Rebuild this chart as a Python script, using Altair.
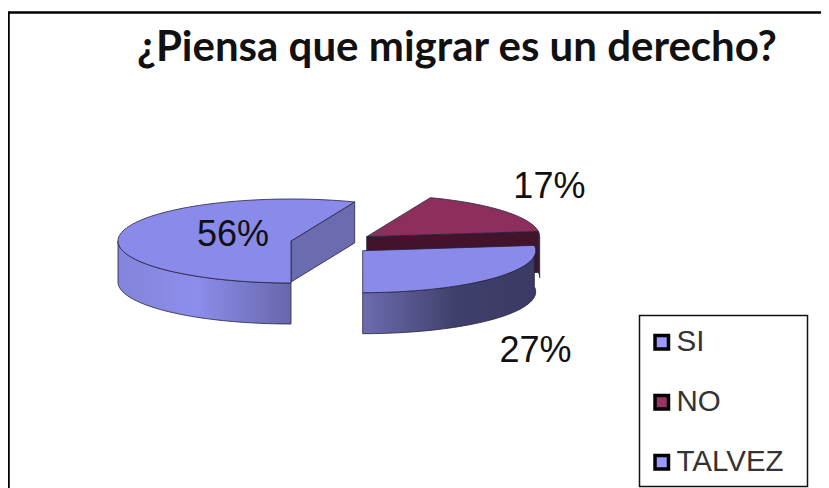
import numpy as np
import altair as alt

categories = ["SI", "NO", "TALVEZ"]
shares = [27, 17, 56]
labels = ["27%", "17%", "56%"]
title_text = "¿Piensa que migrar es un derecho?"

BLUE_TOP = "#8A8AEA"
BLUE_CUT = "#6B6BB0"
RED_TOP = "#8E2E5C"
RED_CUT = "#43122B"
EDGE = "#23233F"
LEGEND_COLORS = ["#9999FF", "#993366", "#9999FF"]

# layout of the exploded 3D pie, in page pixels
A, B, DEPTH = 173.0, 42.0, 41.0
CENTER = {"TALVEZ": (291.0, 241.0), "NO": (366.7, 236.7), "SI": (362.7, 250.7)}
LABEL_SHIFT = {"TALVEZ": (112.0, 2.0), "NO": (46.0, -24.0), "SI": (43.0, 73.0)}

PROJ = dict(type="identity", scale=1, translate=[-8, -8])


def rim(cx, cy, deg):
    r = np.radians(deg)
    return cx + A * np.sin(r), cy - B * np.cos(r)


def arc_pts(c, a0, a1, dy=0.0):
    n = max(3, int(abs(a1 - a0) / 2) + 2)
    return [[float(x), float(y + dy)] for x, y in (rim(c[0], c[1], d) for d in np.linspace(a0, a1, n))]


def poly(pts, fill, width=0.8, stroke=EDGE):
    feature = {
        "type": "Feature",
        "properties": {},
        "geometry": {"type": "Polygon", "coordinates": [pts + [pts[0]]]},
    }
    return (
        alt.Chart(alt.Data(values=[feature]))
        .mark_geoshape(fill=fill, stroke=stroke, strokeWidth=width)
        .project(**PROJ)
    )


def grad(*stops):
    return alt.Gradient(
        gradient="linear",
        stops=[alt.GradientStop(offset=o, color=c) for o, c in stops],
        x1=0, x2=1, y1=0, y2=0,
    )


def top_face(c, a0, a1, fill):
    return poly([list(c)] + arc_pts(c, a0, a1), fill)


def wall(c, a0, a1, fill):
    upper = arc_pts(c, a0, a1)
    lower = arc_pts(c, a0, a1, DEPTH)
    return poly(upper + lower[::-1], fill)


def cut_face(c, deg, fill):
    x, y = rim(c[0], c[1], deg)
    return poly([[c[0], c[1]], [float(x), float(y)], [float(x), float(y + DEPTH)], [c[0], c[1] + DEPTH]], fill)


# slice angles follow from the shares, clockwise from the front of the pie
start = 180.0
t0, t1 = start, start + shares[2] * 3.6
n0, n1 = t1 - 360.0, t1 - 360.0 + shares[1] * 3.6
s0, s1 = n1, n1 + shares[0] * 3.6

ct, cn, cs = CENTER["TALVEZ"], CENTER["NO"], CENTER["SI"]

# the chart's outer frame runs off the right and bottom of the picture
frame = poly([[8.5, 12.5], [1000.0, 12.5], [1000.0, 1000.0], [8.5, 1000.0]], "#FFFFFF", width=2.5, stroke="#000000")

layers = [
    frame,
    # TALVEZ
    wall(ct, t0, 270, grad((0, "#8484DC"), (0.45, "#8D8DEC"), (1, "#6767AB"))),
    cut_face(ct, t1, BLUE_CUT),
    top_face(ct, t0, t1, BLUE_TOP),
    # NO
    wall(cn, n1, 90, RED_CUT),
    cut_face(cn, n1, RED_CUT),
    top_face(cn, n0, n1, RED_TOP),
    # SI
    wall(cs, s0, s1, grad((0, "#6C6CB0"), (0.55, "#3F3F6B"), (1, "#3A3A64"))),
    top_face(cs, s0, s1, BLUE_TOP),
]

# percentage labels, anchored on the rim point at each slice's middle angle
mids = {"SI": (s0 + s1) / 2, "NO": (n0 + n1) / 2, "TALVEZ": (t0 + t1) / 2}
label_rows = []
for cat, text in zip(categories, labels):
    px, py = rim(*CENTER[cat], mids[cat])
    dx, dy = LABEL_SHIFT[cat]
    label_rows.append({"lon": float(px + dx), "lat": float(py + dy), "text": text})

label_layer = (
    alt.Chart(alt.Data(values=label_rows))
    .mark_text(font="Liberation Sans", fontSize=36, color="#111111", baseline="middle", align="center")
    .encode(longitude="lon:Q", latitude="lat:Q", text="text:N")
    .project(**PROJ)
)

# legend box and legend
box = poly([[639.5, 315.5], [807.5, 315.5], [807.5, 486.5], [639.5, 486.5]], "#FFFFFF", width=1.5, stroke="#111111")
legend_rows = [{"cat": c, "lon": 700.0, "lat": 400.0} for c in categories]
legend_layer = (
    alt.Chart(alt.Data(values=legend_rows))
    .mark_square(size=0, strokeWidth=0)
    .encode(
        longitude="lon:Q",
        latitude="lat:Q",
        color=alt.Color(
            "cat:N",
            sort=categories,
            scale=alt.Scale(domain=categories, range=LEGEND_COLORS),
            legend=alt.Legend(
                title=None,
                orient="none",
                legendX=631,
                legendY=311.5,
                padding=8,
                rowPadding=29,
                symbolType="square",
                symbolSize=182,
                symbolStrokeColor="#000000",
                symbolStrokeWidth=3.5,
                symbolOpacity=1,
                labelFont="Liberation Sans",
                labelFontSize=29.5,
                labelColor="#333333",
                labelOffset=0,
            ),
        ),
    )
    .project(**PROJ)
)

chart = (
    alt.layer(*layers, label_layer, box, legend_layer)
    .properties(
        width=813,
        height=480,
        padding=0,
        autosize=alt.AutoSizeParams(type="none"),
        background="#FFFFFF",
        title=alt.TitleParams(
            text=title_text,
            anchor="start",
            font="Lato",
            fontWeight="bold",
            fontSize=42,
            color="#111111",
            baseline="alphabetic",
            dx=129,
            dy=99,
        ),
    )
    .configure_view(stroke=None)
)

chart.save("out.html", embed_options={"renderer": "svg", "actions": False})
